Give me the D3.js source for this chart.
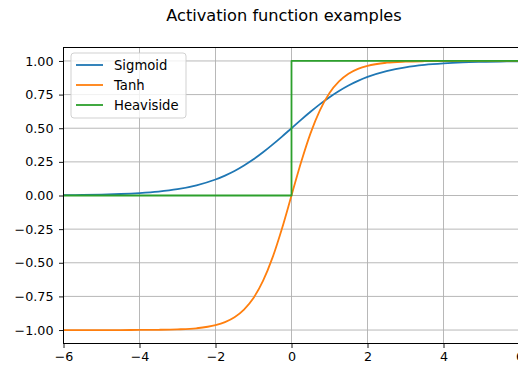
<!DOCTYPE html>
<html>
<head>
<meta charset="utf-8">
<script src="https://cdn.jsdelivr.net/npm/d3@7"></script>
<style>
  html, body { margin: 0; padding: 0; background: #fff; }
  svg { display: block; font-family: "DejaVu Sans", sans-serif; }
</style>
</head>
<body>
<svg id="chart" width="518" height="367"></svg>
<script>
// Sample positions along x
const xValues = [-6, -5.5, -5, -4.5, -4, -3.5, -3, -2.5, -2, -1.75, -1.5, -1.25, -1, -0.75, -0.5, -0.25,
  0, 0.25, 0.5, 0.75, 1, 1.25, 1.5, 1.75, 2, 2.5, 3, 3.5, 4, 4.5, 5, 5.5, 6];
const sigmoidValues = [0.0025, 0.0041, 0.0067, 0.011, 0.018, 0.029, 0.047, 0.076, 0.119, 0.148, 0.182, 0.223,
  0.269, 0.321, 0.378, 0.438, 0.5, 0.562, 0.622, 0.679, 0.731, 0.777, 0.818, 0.852, 0.881, 0.924, 0.953,
  0.971, 0.982, 0.989, 0.993, 0.996, 0.998];
const tanhValues = [-1.0, -1.0, -1.0, -1.0, -0.999, -0.998, -0.995, -0.987, -0.964, -0.941, -0.905, -0.848,
  -0.762, -0.635, -0.462, -0.245, 0, 0.245, 0.462, 0.635, 0.762, 0.848, 0.905, 0.941, 0.964, 0.987, 0.995,
  0.998, 0.999, 1.0, 1.0, 1.0, 1.0];
// Step function corners
const heavisideX = [-6, 0, 0, 6];
const heavisideY = [0, 0, 1, 1];

const xTicks = [-6, -4, -2, 0, 2, 4, 6];
const yTicks = [-1.0, -0.75, -0.5, -0.25, 0, 0.25, 0.5, 0.75, 1.0];
const seriesNames = ["Sigmoid", "Tanh", "Heaviside"];
const seriesColors = ["#1f77b4", "#ff7f0e", "#2ca02c"];
const titleText = "Activation function examples";

const svg = d3.select("#chart");
const plotLeft = 63.5, plotRight = 519.5, plotTop = 47.5, plotBottom = 343.5;

const x = d3.scaleLinear().domain([-6, 6]).range([plotLeft, plotRight]);
const y = d3.scaleLinear().domain([-1.1, 1.1]).range([plotBottom, plotTop]);

// Grid
const grid = svg.append("g");
grid.selectAll(".gx").data(xTicks).enter().append("line")
  .attr("x1", d => x(d)).attr("x2", d => x(d))
  .attr("y1", plotTop).attr("y2", plotBottom)
  .attr("stroke", "#b0b0b0").attr("stroke-width", 0.9);
grid.selectAll(".gy").data(yTicks).enter().append("line")
  .attr("x1", plotLeft).attr("x2", plotRight)
  .attr("y1", d => y(d)).attr("y2", d => y(d))
  .attr("stroke", "#b0b0b0").attr("stroke-width", 0.9);

// Curves
svg.append("defs").append("clipPath").attr("id", "plotclip")
  .append("rect").attr("x", plotLeft).attr("y", plotTop)
  .attr("width", plotRight - plotLeft).attr("height", plotBottom - plotTop);

const line = d3.line().x(d => x(d[0])).y(d => y(d[1]));
const smooth = d3.line().x(d => x(d[0])).y(d => y(d[1])).curve(d3.curveMonotoneX);

const series = [
  xValues.map((v, i) => [v, sigmoidValues[i]]),
  xValues.map((v, i) => [v, tanhValues[i]]),
  heavisideX.map((v, i) => [v, heavisideY[i]])
];
const plot = svg.append("g").attr("clip-path", "url(#plotclip)");
series.forEach((pts, i) => {
  plot.append("path")
    .attr("d", i === 2 ? line(pts) : smooth(pts))
    .attr("fill", "none")
    .attr("stroke", seriesColors[i])
    .attr("stroke-width", 1.8)
    .attr("stroke-linejoin", "round");
});

// Axes
const fmtY = d => d3.format(".2f")(d).replace("-", "\u2212");
const fmtX = d => String(d).replace("-", "\u2212");
const xAxis = svg.append("g").attr("transform", `translate(0,${plotBottom})`)
  .call(d3.axisBottom(x).tickValues(xTicks).tickFormat(fmtX).tickSize(4.5).tickPadding(4));
const yAxis = svg.append("g").attr("transform", `translate(${plotLeft},0)`)
  .call(d3.axisLeft(y).tickValues(yTicks).tickFormat(fmtY).tickSize(4.5).tickPadding(5.5));
[xAxis, yAxis].forEach(a => {
  a.select(".domain").remove();
  a.selectAll("text").attr("font-size", 12.7).attr("font-family", "DejaVu Sans").attr("fill", "#000");
  a.selectAll("line").attr("stroke", "#000").attr("stroke-width", 0.9);
});

// Frame
svg.append("rect").attr("x", plotLeft).attr("y", plotTop)
  .attr("width", plotRight - plotLeft).attr("height", plotBottom - plotTop)
  .attr("fill", "none").attr("stroke", "#000").attr("stroke-width", 1);

// Title
svg.append("text").attr("x", 284).attr("y", 21).attr("text-anchor", "middle")
  .attr("font-size", 16.2).text(titleText);

// Legend
const lg = svg.append("g").attr("transform", "translate(71,53)");
lg.append("rect").attr("width", 115).attr("height", 65).attr("rx", 3)
  .attr("fill", "#fff").attr("fill-opacity", 0.8).attr("stroke", "#cccccc").attr("stroke-width", 0.9);
seriesNames.forEach((name, i) => {
  const cy = 12 + i * 20;
  lg.append("line").attr("x1", 5).attr("x2", 32).attr("y1", cy).attr("y2", cy)
    .attr("stroke", seriesColors[i]).attr("stroke-width", 1.8);
  lg.append("text").attr("x", 43).attr("y", cy).attr("dy", "0.35em")
    .attr("font-size", 13.2).text(name);
});
</script>
</body>
</html>
